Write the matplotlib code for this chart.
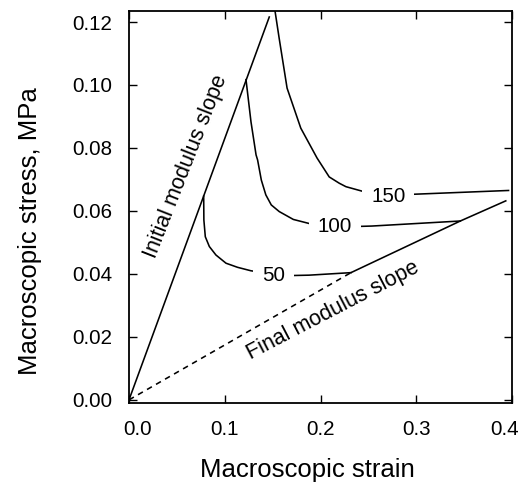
import matplotlib
matplotlib.use("Agg")
import matplotlib.pyplot as plt
from matplotlib.ticker import FormatStrFormatter
from matplotlib.transforms import ScaledTranslation

plt.rcParams['font.family'] = ['Liberation Sans', 'DejaVu Sans']

# ---- data ----
initial_strain = [0.0, 0.1465]
initial_stress = [0.0, 0.1216]

final_dash_strain = [0.0, 0.2318]
final_dash_stress = [0.0, 0.0404]
final_solid_strain = [0.2318, 0.3460, 0.3935]
final_solid_stress = [0.0404, 0.0568, 0.0632]

strain_50 = [0.0780, 0.0782, 0.0797, 0.0839, 0.0908, 0.1013, 0.1133, 0.1273,
             0.1508, 0.1724, 0.1880, 0.2318]
stress_50 = [0.0647, 0.0571, 0.0518, 0.0487, 0.0460, 0.0434, 0.0421, 0.0410,
             0.0399, 0.0395, 0.0396, 0.0404]

strain_100 = [0.1222, 0.1274, 0.1327, 0.1343, 0.1382, 0.1429, 0.1486, 0.1569,
              0.1716, 0.1883, 0.2149, 0.2419, 0.2536, 0.3460]
stress_100 = [0.1017, 0.0883, 0.0778, 0.0762, 0.0698, 0.0651, 0.0619, 0.0598,
              0.0573, 0.0560, 0.0555, 0.0551, 0.0552, 0.0568]

strain_150 = [0.1520, 0.1568, 0.1651, 0.1794, 0.1964, 0.2091, 0.2196, 0.2266,
              0.2456, 0.2707, 0.2974, 0.3964]
stress_150 = [0.1245, 0.1149, 0.0990, 0.0863, 0.0768, 0.0708, 0.0688, 0.0677,
              0.0661, 0.0652, 0.0653, 0.0665]

curve_labels = ["50", "100", "150"]

xticks = [0.0, 0.1, 0.2, 0.3, 0.4]
yticks = [0.00, 0.02, 0.04, 0.06, 0.08, 0.10, 0.12]

# ---- figure ----
fig = plt.figure(figsize=(5.21, 4.86), dpi=100)
ax = fig.add_axes([129 / 521, 1 - 403 / 486, 383 / 521, 392 / 486])

lw = 1.15
ax.plot(initial_strain, initial_stress, color='black', lw=lw)
ax.plot(final_dash_strain, final_dash_stress, color='black', lw=lw,
        linestyle=(0, (3.5, 3)))
ax.plot(final_solid_strain, final_solid_stress, color='black', lw=lw)

for xs, ys in [(strain_50, stress_50), (strain_100, stress_100),
               (strain_150, stress_150)]:
    ax.plot(xs, ys, color='black', lw=lw)

label_pos = [(0.1510, 0.0396), (0.2149, 0.0550), (0.2707, 0.0645)]
for txt, (lx, ly) in zip(curve_labels, label_pos):
    ax.text(lx, ly, txt, fontsize=14.8, ha='center', va='center', zorder=4,
            bbox=dict(boxstyle='square,pad=0.42', fc='white', ec='none'))

ax.text(0.0594, 0.0741, "Initial modulus slope", fontsize=15.5,
        rotation=68.5, rotation_mode='anchor', ha='center', va='center')
ax.text(0.2133, 0.0283, "Final modulus slope", fontsize=15.5,
        rotation=27.5, rotation_mode='anchor', ha='center', va='center')

ax.set_xlim(0.0, 0.4)
ax.set_ylim(-0.001, 0.1235)
ax.set_xticks(xticks)
ax.set_yticks(yticks)
ax.xaxis.set_major_formatter(FormatStrFormatter('%.1f'))
ax.yaxis.set_major_formatter(FormatStrFormatter('%.2f'))
ax.tick_params(direction='in', length=6, width=1.0, top=True, right=True,
               labelsize=14.8, pad=12)
for s in ax.spines.values():
    s.set_linewidth(1.3)

# nudge the first and last x tick labels as in the reference
xt = ax.xaxis.get_major_ticks()
xt[0].label1.set_transform(xt[0].label1.get_transform()
                           + ScaledTranslation(9 / 100, 0, fig.dpi_scale_trans))
xt[-1].label1.set_transform(xt[-1].label1.get_transform()
                            + ScaledTranslation(-7 / 100, 0, fig.dpi_scale_trans))

ax.set_xlabel("Macroscopic strain", fontsize=18.5)
ax.set_ylabel("Macroscopic stress, MPa", fontsize=18.5)
ax.xaxis.set_label_coords(0.466, -0.14)
ax.yaxis.set_label_coords(-0.227, 0.439)

fig.savefig("out.png", dpi=100)
